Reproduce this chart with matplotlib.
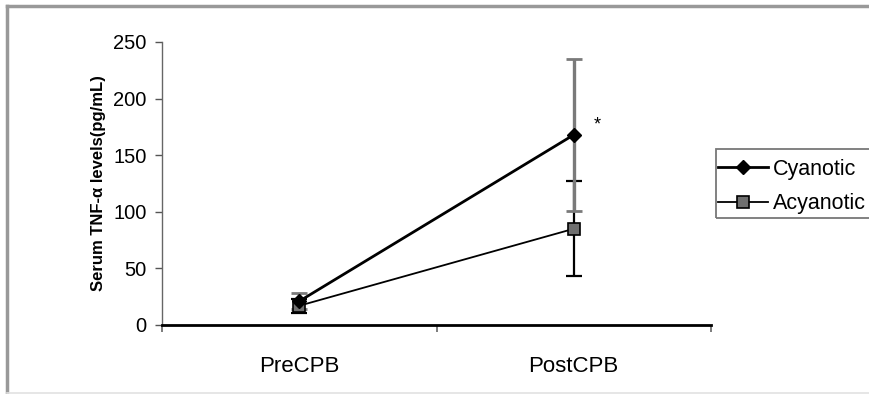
import matplotlib
matplotlib.use("Agg")
import matplotlib.pyplot as plt
from matplotlib.patches import Rectangle
from matplotlib.lines import Line2D

plt.rcParams['font.family'] = ['Liberation Sans', 'DejaVu Sans']

categories = ["PreCPB", "PostCPB"]
cyanotic = [21, 168]
cyanotic_err = [7, 67]
acyanotic = [17, 85]
acyanotic_err = [6, 42]
yticks = [0, 50, 100, 150, 200, 250]

W, H = 869, 394
fig = plt.figure(figsize=(W/100, H/100), dpi=100)
ax = fig.add_axes([162/W, 1-325/H, (711-162)/W, (325-42)/H])

x = [0.5, 1.5]

ax.errorbar(x, acyanotic, yerr=acyanotic_err, fmt='none', ecolor='black',
            elinewidth=1.6, capsize=6, capthick=1.6, zorder=2)
ax.errorbar(x, cyanotic, yerr=cyanotic_err, fmt='none', ecolor='#7a7a7a',
            elinewidth=2.4, capsize=6, capthick=2.0, zorder=3)
ax.plot(x, acyanotic, color='black', lw=1.3, marker='s', ms=9,
        markerfacecolor='#6f6f6f', markeredgecolor='black', markeredgewidth=1.2,
        label='Acyanotic', zorder=4)
ax.plot(x, cyanotic, color='black', lw=2.0, marker='D', ms=7,
        markerfacecolor='black', markeredgecolor='black',
        label='Cyanotic', zorder=5)

ax.text(1.5 + 0.085, 177, '*', fontsize=13, ha='center', va='center')

ax.set_xlim(0, 2)
ax.set_ylim(0, 250)
ax.set_yticks(yticks)
ax.set_yticklabels([str(v) for v in yticks], fontsize=14.5)
ax.set_xticks(x)
ax.set_xticklabels(categories, fontsize=16)
ax.tick_params(axis='x', length=0, pad=22)
ax.set_xticks([0, 1, 2], minor=True)
ax.tick_params(axis='x', which='minor', length=5, width=1.2, direction='out', color='#666666')
ax.tick_params(axis='y', length=5, width=1, direction='out', color='#555555', pad=6)

for s in ['top', 'right']:
    ax.spines[s].set_visible(False)
ax.spines['left'].set_color('#666666')
ax.spines['left'].set_linewidth(1.0)
ax.spines['bottom'].set_color('black')
ax.spines['bottom'].set_linewidth(2.0)

ax.set_ylabel('Serum TNF-α levels(pg/mL)', fontsize=12, fontweight='bold', labelpad=5)

handles, labels = ax.get_legend_handles_labels()
leg = fig.legend([handles[1], handles[0]], [labels[1], labels[0]],
                 loc='center left', bbox_to_anchor=(718/W, 1-186.5/H),
                 fontsize=15.5, frameon=False, handlelength=2.3,
                 handletextpad=0.25, borderpad=0.0, labelspacing=0.62,
                 borderaxespad=0)

# legend frame (extends past the right edge, as in the reference)
fig.add_artist(Rectangle((716/W, 1-218/H), 200/W, 69/H, transform=fig.transFigure,
                         fill=False, edgecolor='#777777', linewidth=1.3))

# outer frame
fig.add_artist(Line2D([7/W, 7/W], [1-392/H, 1-6/H], transform=fig.transFigure,
                      color='#999999', lw=2.5))
fig.add_artist(Line2D([7/W, 1.0], [1-6/H, 1-6/H], transform=fig.transFigure,
                      color='#999999', lw=2.5))
fig.add_artist(Line2D([7/W, 1.0], [1-393/H, 1-393/H], transform=fig.transFigure,
                      color='#e2e2e2', lw=1.2))

fig.savefig('out.png', dpi=100)
